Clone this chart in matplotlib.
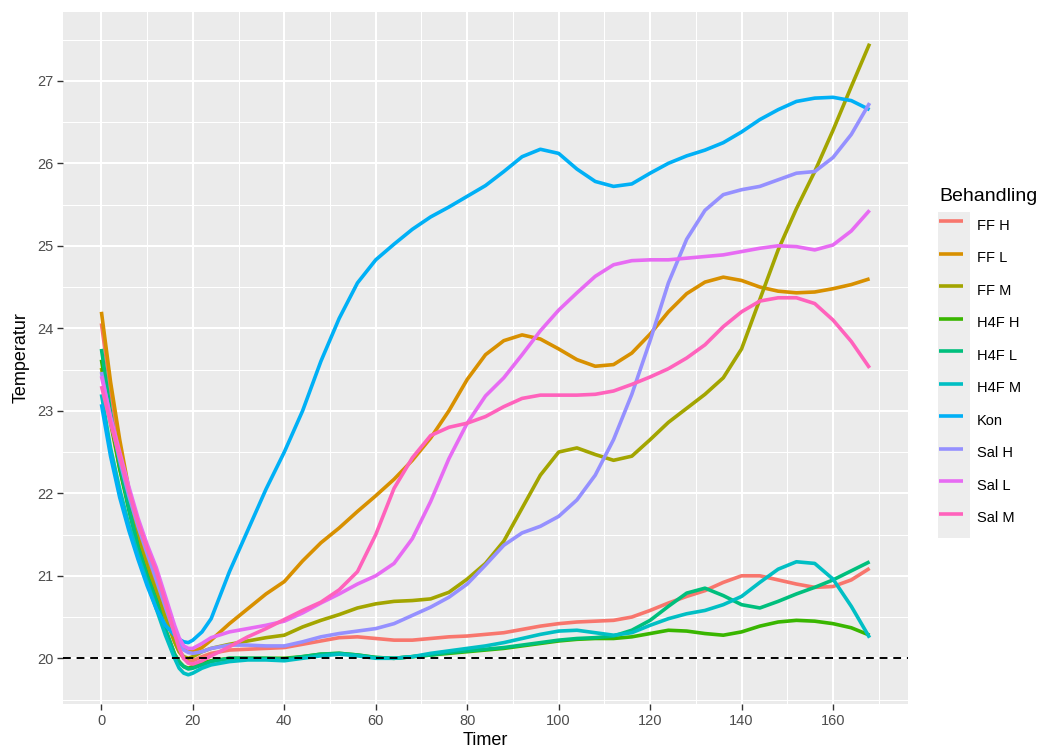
import matplotlib.pyplot as plt
from matplotlib.patches import Rectangle
from matplotlib.ticker import MultipleLocator

# Data (smoothed temperature per treatment)
hours = [0, 2, 4, 6, 8, 10, 12, 14, 16, 17, 18, 19, 20, 22, 24,
         28, 32, 36, 40, 44, 48, 52, 56, 60, 64, 68, 72, 76, 80, 84, 88, 92, 96,
         100, 104, 108, 112, 116, 120, 124, 128, 132, 136, 140, 144, 148, 152, 156,
         160, 164, 168]

ff_h = [24.06, 23.25, 22.55, 21.95, 21.45, 21.15, 20.85, 20.5, 20.2, 20.08, 20.0, 19.96,
        19.97, 20.02, 20.06,
        20.1, 20.11, 20.12, 20.13, 20.17, 20.21, 20.25, 20.26, 20.24, 20.22, 20.22, 20.24,
        20.26, 20.27, 20.29, 20.31, 20.35, 20.39, 20.42, 20.44, 20.45, 20.46, 20.5, 20.58,
        20.67, 20.75, 20.82, 20.92, 21.0, 21.0, 20.95, 20.9, 20.86, 20.87, 20.95, 21.09]
ff_l = [24.2, 23.35, 22.65, 22.05, 21.55, 21.2, 20.9, 20.6, 20.3, 20.2, 20.12, 20.09,
        20.08, 20.13, 20.22,
        20.42, 20.6, 20.78, 20.93, 21.18, 21.4, 21.58, 21.78, 21.97, 22.17, 22.4, 22.67,
        23.0, 23.38, 23.68, 23.85, 23.92, 23.87, 23.75, 23.62, 23.54, 23.56, 23.7, 23.93,
        24.2, 24.42, 24.56, 24.62, 24.58, 24.5, 24.45, 24.43, 24.44, 24.48, 24.53, 24.6]
ff_m = [23.52, 22.85, 22.3, 21.85, 21.45, 21.1, 20.8, 20.5, 20.2, 20.08, 20.02, 20.0,
        20.02, 20.08, 20.12,
        20.17, 20.21, 20.25, 20.28, 20.38, 20.46, 20.53, 20.61, 20.66, 20.69, 20.7, 20.72,
        20.8, 20.96, 21.15, 21.42, 21.82, 22.22, 22.5, 22.55, 22.47, 22.4, 22.45, 22.65,
        22.86, 23.03, 23.2, 23.4, 23.75, 24.35, 24.95, 25.45, 25.9, 26.4, 26.93, 27.45]
h4f_h = [23.62, 22.9, 22.3, 21.8, 21.35, 21.0, 20.7, 20.35, 20.05, 19.96, 19.9, 19.88,
         19.9, 19.94, 19.97,
         20.0, 20.0, 20.0, 20.0, 20.02, 20.05, 20.06, 20.04, 20.01, 20.0, 20.02, 20.04,
         20.06, 20.08, 20.1, 20.12, 20.15, 20.18, 20.21, 20.23, 20.24, 20.24, 20.26, 20.3,
         20.34, 20.33, 20.3, 20.28, 20.32, 20.39, 20.44, 20.46, 20.45, 20.42, 20.37, 20.28]
h4f_l = [23.75, 22.98, 22.35, 21.82, 21.35, 21.0, 20.7, 20.35, 20.05, 19.95, 19.9, 19.87,
         19.88, 19.92, 19.96,
         20.0, 20.0, 20.0, 19.99, 20.02, 20.05, 20.06, 20.04, 20.01, 20.0, 20.02, 20.04,
         20.07, 20.09, 20.11, 20.13, 20.16, 20.19, 20.22, 20.24, 20.25, 20.27, 20.34, 20.46,
         20.63, 20.79, 20.85, 20.76, 20.65, 20.61, 20.69, 20.78, 20.86, 20.95, 21.06, 21.17]
h4f_m = [23.2, 22.55, 22.05, 21.62, 21.25, 20.92, 20.6, 20.28, 20.0, 19.88, 19.82, 19.8,
         19.82, 19.88, 19.92,
         19.96, 19.98, 19.98, 19.97, 20.0, 20.03, 20.05, 20.03, 20.0, 20.0, 20.02, 20.06,
         20.09, 20.12, 20.15, 20.19, 20.24, 20.29, 20.33, 20.34, 20.31, 20.28, 20.31, 20.4,
         20.48, 20.54, 20.58, 20.65, 20.75, 20.92, 21.08, 21.17, 21.15, 20.96, 20.63, 20.25]
kon = [23.08, 22.45, 21.95, 21.55, 21.2, 20.88, 20.6, 20.4, 20.28, 20.23, 20.2, 20.19,
       20.22, 20.32, 20.48,
       21.05, 21.55, 22.05, 22.5, 23.0, 23.6, 24.12, 24.55, 24.83, 25.02, 25.2, 25.35,
       25.47, 25.6, 25.73, 25.9, 26.08, 26.17, 26.12, 25.93, 25.78, 25.72, 25.75, 25.88,
       26.0, 26.09, 26.16, 26.25, 26.38, 26.53, 26.65, 26.75, 26.79, 26.8, 26.76, 26.65]
sal_h = [23.47, 22.9, 22.4, 21.97, 21.6, 21.27, 20.95, 20.62, 20.3, 20.18, 20.1, 20.07,
         20.06, 20.08, 20.12,
         20.16, 20.16, 20.15, 20.15, 20.2, 20.26, 20.3, 20.33, 20.36, 20.42, 20.52, 20.62,
         20.74, 20.9, 21.13, 21.37, 21.52, 21.6, 21.72, 21.92, 22.22, 22.65, 23.2, 23.85,
         24.55, 25.08, 25.43, 25.62, 25.68, 25.72, 25.8, 25.88, 25.9, 26.07, 26.35, 26.73]
sal_l = [23.42, 22.93, 22.5, 22.08, 21.7, 21.38, 21.1, 20.75, 20.4, 20.25, 20.15, 20.12,
         20.12, 20.18, 20.25,
         20.32, 20.36, 20.4, 20.45, 20.55, 20.67, 20.78, 20.9, 21.0, 21.15, 21.45, 21.9,
         22.42, 22.85, 23.18, 23.4, 23.68, 23.97, 24.22, 24.43, 24.63, 24.77, 24.82, 24.83,
         24.83, 24.85, 24.87, 24.89, 24.93, 24.97, 25.0, 24.99, 24.95, 25.01, 25.18, 25.43]
sal_m = [23.3, 22.85, 22.45, 22.03, 21.65, 21.33, 21.05, 20.68, 20.3, 20.12, 20.0, 19.94,
         19.93, 19.97, 20.03,
         20.14, 20.26, 20.36, 20.47, 20.58, 20.68, 20.83, 21.05, 21.5, 22.06, 22.43, 22.7,
         22.8, 22.85, 22.93, 23.05, 23.15, 23.19, 23.19, 23.19, 23.2, 23.24, 23.32, 23.41,
         23.51, 23.64, 23.8, 24.02, 24.2, 24.33, 24.37, 24.37, 24.3, 24.1, 23.84, 23.52]

labels = ["FF H", "FF L", "FF M", "H4F H", "H4F L", "H4F M", "Kon", "Sal H", "Sal L", "Sal M"]
series = [ff_h, ff_l, ff_m, h4f_h, h4f_l, h4f_m, kon, sal_h, sal_l, sal_m]
colors = ["#F8766D", "#D89000", "#A3A500", "#39B600", "#00BF7D",
          "#00BFC4", "#00B0F6", "#9590FF", "#E76BF3", "#FF62BC"]

plt.rcParams["font.family"] = ["Liberation Sans", "DejaVu Sans"]

W, H = 1041, 751
fig = plt.figure(figsize=(W / 100, H / 100), dpi=100)
ax = fig.add_axes([63 / W, 1 - 704 / H, (908 - 63) / W, (704 - 12) / H])

# ggplot-like panel
ax.set_facecolor("#EBEBEB")
for s in ax.spines.values():
    s.set_visible(False)
ax.xaxis.set_major_locator(MultipleLocator(20))
ax.xaxis.set_minor_locator(MultipleLocator(10))
ax.yaxis.set_major_locator(MultipleLocator(1))
ax.yaxis.set_minor_locator(MultipleLocator(0.5))
ax.grid(which="major", color="white", lw=1.45)
ax.grid(which="minor", color="white", lw=0.75)
ax.set_axisbelow(True)
ax.tick_params(which="major", length=4, width=1.0, color="#333333",
               labelcolor="#4D4D4D", labelsize=10.5, pad=3)
ax.tick_params(which="minor", length=0)

ax.axhline(20, color="black", lw=1.4, ls=(0, (4, 3)), zorder=3)

for lab, vals, col in zip(labels, series, colors):
    ax.plot(hours, vals, color=col, lw=2.6, label=lab, zorder=2,
            solid_capstyle="butt", solid_joinstyle="round")

ax.set_xlim(-8.4, 176.4)
ax.set_ylim(19.446, 27.834)
ax.set_xlabel("Timer", fontsize=13, labelpad=3)
ax.set_ylabel("Temperatur", fontsize=13, labelpad=5)

# legend key background
fig.add_artist(Rectangle((938 / W, 1 - 538 / H), 32 / W, 326 / H,
                         transform=fig.transFigure, facecolor="#EDEDED",
                         edgecolor="none", zorder=-1))
leg = ax.legend(title="Behandling", loc="upper left",
                bbox_to_anchor=(939 / W, 1 - 188 / H), bbox_transform=fig.transFigure,
                frameon=False, fontsize=10.5, title_fontsize=14,
                handlelength=1.65, handleheight=2.22, labelspacing=0.54,
                handletextpad=0.95, borderpad=0, borderaxespad=0, alignment="left")

fig.savefig("out.png", dpi=100)
